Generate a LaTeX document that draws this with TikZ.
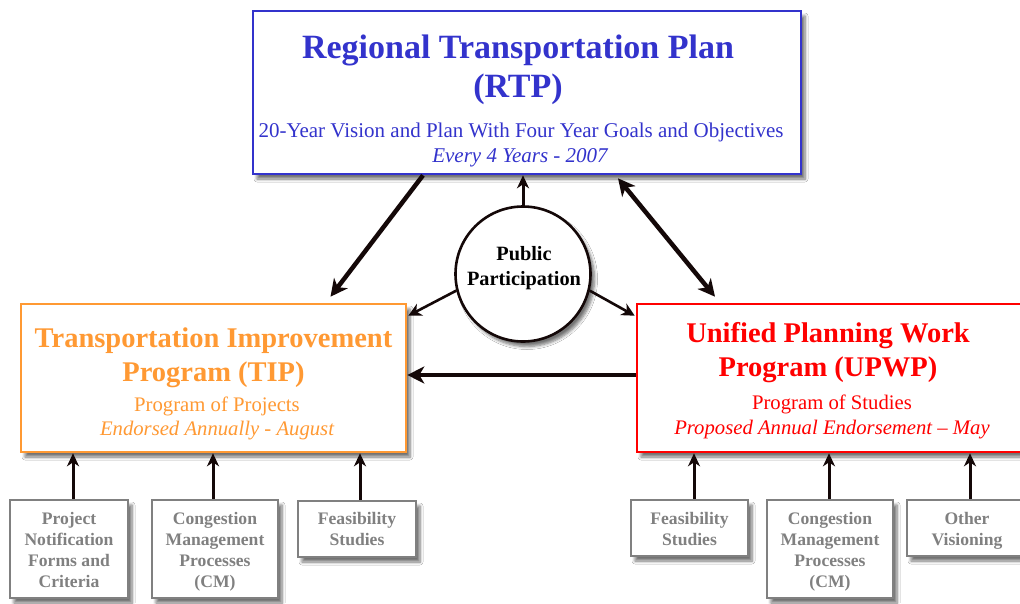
\documentclass[tikz,border=0pt]{standalone}
\usepackage{fontspec}
\setmainfont{Liberation Serif}
\usetikzlibrary{arrows.meta,shadows.blur,calc}
\definecolor{rtpblue}{RGB}{51,51,204}
\definecolor{tiporange}{RGB}{255,153,51}
\definecolor{upwpred}{RGB}{255,0,0}
\definecolor{boxgray}{RGB}{128,128,128}
\definecolor{arrowblack}{RGB}{20,8,8}
\begin{document}
\begin{tikzpicture}[x=1pt,y=-1pt,
  shad/.style={blur shadow={shadow xshift=4pt,shadow yshift=-5pt,shadow blur steps=6,shadow blur radius=3pt,shadow opacity=55}},
  bigbox/.style={draw, line width=2.6pt, fill=white, rectangle, inner sep=0pt, shad},
  graybox/.style={draw=boxgray, line width=2.6pt, fill=white, rectangle, inner sep=0pt, shad},
  graytext/.style={text=boxgray, font=\fontsize{17.6}{20.7}\selectfont\bfseries, align=center, anchor=base},
  bigtitle/.style={font=\fontsize{34}{40}\selectfont\bfseries, anchor=base},
  titletext/.style={font=\fontsize{28.5}{34}\selectfont\bfseries, anchor=base},
  subtext/.style={font=\fontsize{20.7}{25}\selectfont, anchor=base},
  itext/.style={font=\fontsize{20.7}{25}\selectfont\itshape, anchor=base},
  thickarrow/.style={draw=arrowblack, line width=4.5pt, -{Stealth[length=17pt,width=17pt,inset=5pt]}},
  thickdouble/.style={draw=arrowblack, line width=4.5pt, {Stealth[length=17pt,width=17pt,inset=5pt]}-{Stealth[length=17pt,width=17pt,inset=5pt]}},
  thinarrow/.style={draw=arrowblack, line width=2.6pt, -{Stealth[length=13pt,width=13pt,inset=4pt]}},
  uparrow/.style={draw=arrowblack, line width=3pt, -{Stealth[length=13pt,width=12pt,inset=4pt]}}
]
\fill[white] (0,0) rectangle (1020,603);
\clip (0,0) rectangle (1020,603);

% Top box RTP
\node[bigbox, draw=rtpblue, minimum width=548pt, minimum height=163pt] (rtp) at (527,92.5) {};
\node[bigtitle, text=rtpblue] (rtpA) at (518,58) {Regional Transportation Plan};
\node[bigtitle, text=rtpblue] (rtpB) at (518,97) {(RTP)};
\node[subtext, font=\fontsize{21}{25}\selectfont, text=rtpblue] (rtpC) at (521,137) {20-Year Vision and Plan With Four Year Goals and Objectives};
\node[itext, font=\fontsize{21}{25}\selectfont\itshape, text=rtpblue] (rtpD) at (520,162) {Every 4 Years - 2007};

% TIP box
\node[bigbox, draw=tiporange, minimum width=385pt, minimum height=148pt] (tip) at (213.5,378) {};
\node[titletext, text=tiporange] (tipA) at (213.5,347) {Transportation Improvement};
\node[titletext, text=tiporange] (tipB) at (213.5,381) {Program (TIP)};
\node[subtext, text=tiporange] (tipC) at (217,411) {Program of Projects};
\node[itext, text=tiporange] (tipD) at (217,435) {Endorsed Annually - August};

% UPWP box
\node[bigbox, draw=upwpred, minimum width=386pt, minimum height=148pt] (upwp) at (830,378) {};
\node[titletext, text=upwpred] (upwpA) at (828,342) {Unified Planning Work};
\node[titletext, text=upwpred] (upwpB) at (828,376) {Program (UPWP)};
\node[subtext, text=upwpred] (upwpC) at (832,409) {Program of Studies};
\node[itext, text=upwpred] (upwpD) at (832,434) {Proposed Annual Endorsement -- May};

% Public participation
\node[circle, draw=arrowblack, line width=2.6pt, fill=white, minimum size=135pt, inner sep=0pt, shad] (pp) at (523,274) {};
\node[anchor=base, font=\fontsize{20.3}{24}\selectfont\bfseries] (ppA) at (524,260) {Public};
\node[anchor=base, font=\fontsize{20.3}{24}\selectfont\bfseries] (ppB) at (524,285) {Participation};

% Bottom left boxes
\node[graybox, minimum width=118pt, minimum height=98pt] (b1) at (69,549) {};
\node[graytext] (b1t) at (69,587) {Project\\Notification\\Forms and\\Criteria};
\node[graybox, minimum width=126pt, minimum height=98pt] (b2) at (215,549) {};
\node[graytext] (b2t) at (215,587) {Congestion\\Management\\Processes\\(CM)};
\node[graybox, minimum width=118pt, minimum height=56pt] (b3) at (357,529) {};
\node[graytext] (b3t) at (357,545) {Feasibility\\Studies};

% Bottom right boxes
\node[graybox, minimum width=117pt, minimum height=56pt] (b4) at (689.5,528) {};
\node[graytext] (b4t) at (689.5,545) {Feasibility\\Studies};
\node[graybox, minimum width=126pt, minimum height=98pt] (b5) at (830,549) {};
\node[graytext] (b5t) at (830,587) {Congestion\\Management\\Processes\\(CM)};
\node[graybox, minimum width=120pt, minimum height=56pt] (b6) at (967,528) {};
\node[graytext] (b6t) at (967,545) {Other\\Visioning};

% Connectors
\draw[thickarrow] ($(rtp.south)+(-104,0)$) -- ($(tip.north)+(117,-6)$);
\draw[thickdouble] ($(rtp.south)+(91,3)$) -- ($(upwp.north)+(-115,-6)$);
\draw[uparrow] (pp.north) -- (pp.north |- rtp.south);
\draw[thinarrow] (pp.194) -- ($(tip.north east)+(1,13)$);
\draw[thinarrow] (pp.-14) -- ($(upwp.north west)+(-1,13)$);
\draw[thickarrow, line width=4pt] (upwp.west |- 0,375) -- (tip.east |- 0,375);

\draw[uparrow] (b1.north -| 73,0) -- (tip.south -| 73,0);
\draw[uparrow] (b2.north -| 213,0) -- (tip.south -| 213,0);
\draw[uparrow] (b3.north -| 360,0) -- (tip.south -| 360,0);
\draw[uparrow] (b4.north -| 694,0) -- (upwp.south -| 694,0);
\draw[uparrow] (b5.north -| 829,0) -- (upwp.south -| 829,0);
\draw[uparrow] (b6.north -| 970,0) -- (upwp.south -| 970,0);
\end{tikzpicture}
\end{document}
